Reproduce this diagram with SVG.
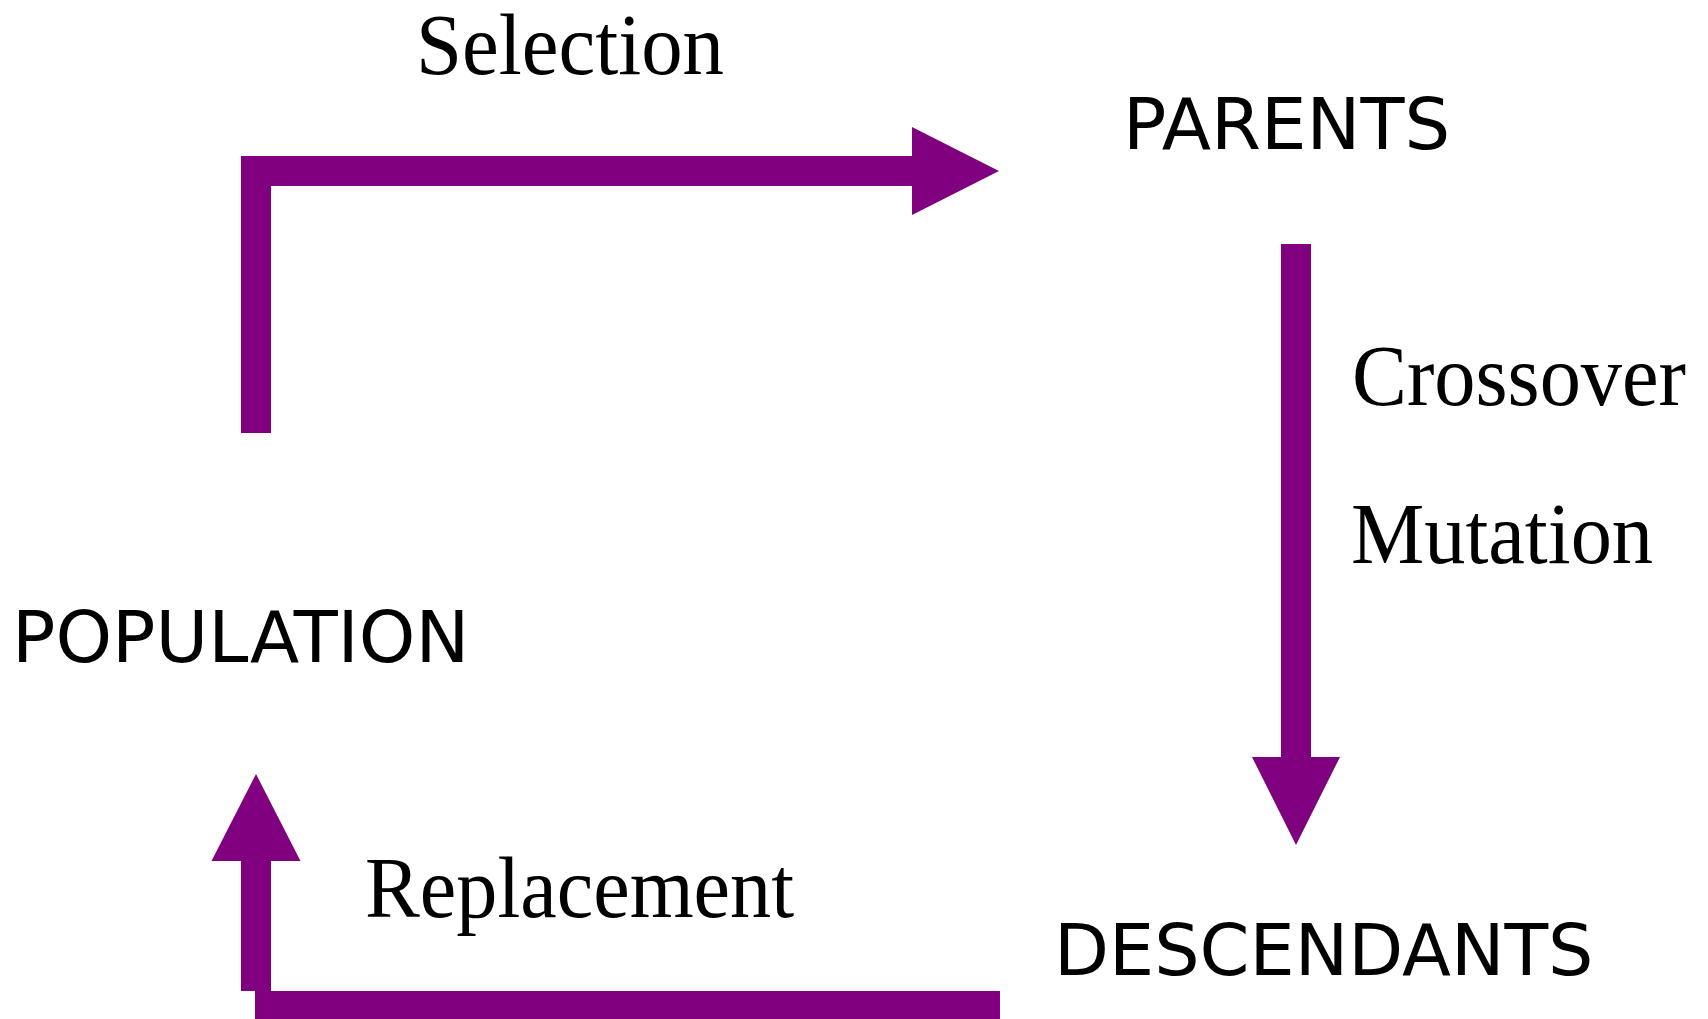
<svg xmlns="http://www.w3.org/2000/svg" width="1708" height="1019" viewBox="0 0 1708 1019">
  <style>
    .node { font-family: "DejaVu Sans", Verdana, sans-serif; font-size: 72px; fill: #000; }
    .step { font-family: "Liberation Serif", "Times New Roman", serif; font-size: 86px; fill: #000; }
    .flow { fill: #800080; stroke: none; }
  </style>
  <rect width="1708" height="1019" fill="#fff"/>

  <!-- block arrows of the cycle -->
  <g id="connectors">
    <!-- population -> parents -->
    <path class="flow" d="M241,433 L241,156 L912,156 L912,127 L999,171 L912,215 L912,186 L271,186 L271,433 Z"/>
    <!-- parents -> descendants -->
    <path class="flow" d="M1281,244 L1311,244 L1311,757 L1340,757 L1296,845 L1252,757 L1281,757 Z"/>
    <!-- descendants -> population -->
    <rect class="flow" x="255" y="991" width="745" height="28"/>
    <path class="flow" d="M241,991 L241,861 L211.5,861 L256,774 L300.5,861 L271,861 L271,991 Z"/>
  </g>

  <!-- operator labels -->
  <g id="labels">
    <text class="step" x="416" y="74" textLength="308" lengthAdjust="spacingAndGlyphs">Selection</text>
    <text class="step" x="1352" y="405" textLength="334" lengthAdjust="spacingAndGlyphs">Crossover</text>
    <text class="step" x="1351" y="563" textLength="302" lengthAdjust="spacingAndGlyphs">Mutation</text>
    <text class="step" x="365" y="917" textLength="429" lengthAdjust="spacingAndGlyphs">Replacement</text>
  </g>

  <g id="population">
    <text class="node" x="12" y="662">POPULATION</text>
  </g>
  <g id="parents">
    <text class="node" x="1123" y="149">PARENTS</text>
  </g>
  <g id="descendants">
    <text class="node" x="1054" y="975" style="font-size:71.5px">DESCENDANTS</text>
  </g>
</svg>
